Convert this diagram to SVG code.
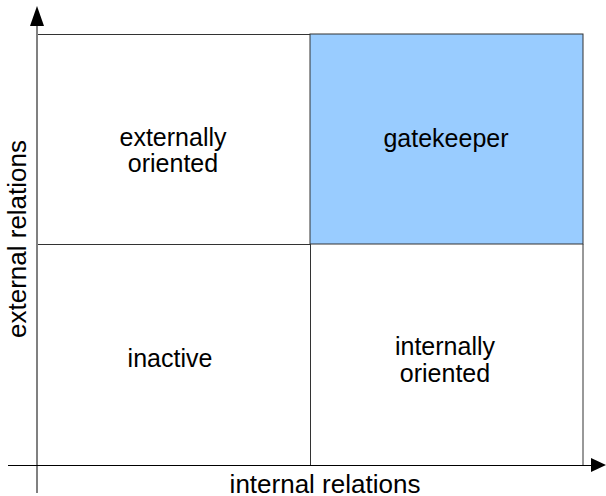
<svg xmlns="http://www.w3.org/2000/svg" width="606" height="496" viewBox="0 0 606 496">
<style>
.t{font-family:"Liberation Sans",Arial,sans-serif;font-size:25px;fill:#000;text-anchor:middle}
.a{font-size:26px}
.g{fill:none;stroke:#333;stroke-width:1}
</style>
<rect width="606" height="496" fill="#fff"/>
<g id="cell-gatekeeper">
<rect x="310" y="34" width="273" height="210" fill="#99ccff" stroke="#333" stroke-width="1"/>
<text class="t" x="446" y="146.5">gatekeeper</text>
</g>
<g id="cell-external">
<path class="g" d="M37 34.5H310"/>
<text class="t" x="173" y="145.5">externally</text>
<text class="t" x="173" y="172">oriented</text>
</g>
<g id="cell-inactive">
<path class="g" d="M37 244.5H310"/>
<text class="t" x="170" y="366.5">inactive</text>
</g>
<g id="cell-internal">
<path class="g" d="M310.5 244V465M583 244V465"/>
<text class="t" x="445" y="355">internally</text>
<text class="t" x="445" y="381.5">oriented</text>
</g>
<g id="connectors">
<path d="M37 493V24" stroke="#808080" stroke-width="2" fill="none"/>
<polygon points="37,6 30,26 44,26" fill="#000"/>
<path d="M8 465.5H593" stroke="#000" stroke-width="1" fill="none"/>
<polygon points="606,465 591,458 591,472" fill="#000"/>
</g>
<text class="t a" x="325" y="492.5">internal relations</text>
<text class="t a" transform="translate(25.5,239) rotate(-90)">external relations</text>
</svg>
